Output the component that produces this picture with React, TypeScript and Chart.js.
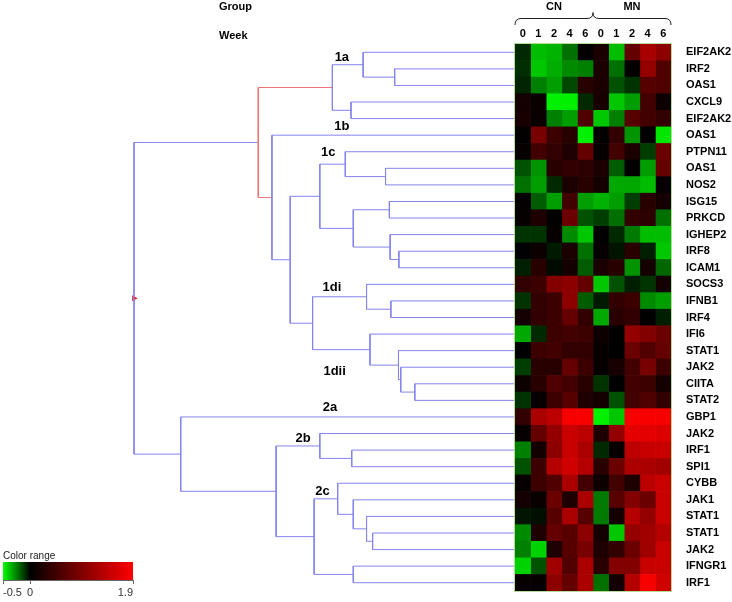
import React, { useEffect, useRef } from 'react';
import { Chart, registerables } from 'chart.js';
Chart.register(...registerables);

// ---------- data ----------
const genes = ['EIF2AK2','IRF2','OAS1','CXCL9','EIF2AK2','OAS1','PTPN11','OAS1','NOS2','ISG15','PRKCD','IGHEP2','IRF8','ICAM1','SOCS3','IFNB1','IRF4','IFI6','STAT1','JAK2','CIITA','STAT2','GBP1','JAK2','IRF1','SPI1','CYBB','JAK1','STAT1','STAT1','JAK2','IFNGR1','IRF1'];
const groups = ['CN', 'MN'];
const weekLabels = ['0','1','2','4','6','0','1','2','4','6'];

// columns: CN wk0,1,2,4,6 | MN wk0,1,2,4,6
const expression: number[][] = [
  [-0.08, -0.37, -0.35, -0.22, 0.03, 0.2, -0.37, 0.75, 1.25, 1.05],
  [-0.09, -0.39, -0.34, -0.27, -0.25, 0.2, -0.22, 0.02, 1.1, 0.6],
  [-0.07, -0.25, -0.31, -0.14, 0.3, 0.2, -0.16, -0.1, 0.65, 0.6],
  [0.15, 0.07, -0.47, -0.47, -0.08, 0.18, -0.39, -0.31, 0.5, 0.1],
  [0.18, 0.07, -0.25, -0.31, 0.6, -0.39, -0.25, 0.65, 0.5, 0.37],
  [0.02, 0.9, 0.45, 0.3, -0.47, 0.02, 0.37, -0.29, 0.02, -0.45],
  [0.05, 0.5, 0.37, 0.22, 0.75, 0.05, 0.5, 0.2, -0.12, 0.8],
  [-0.16, -0.29, 0.3, 0.37, 0.33, 0.2, -0.18, 0.02, -0.31, 0.75],
  [-0.22, -0.31, -0.08, 0.2, 0.3, 0.15, -0.33, -0.33, -0.37, 0.05],
  [0.03, -0.18, -0.31, 0.5, -0.31, -0.35, -0.31, -0.12, 0.3, 0.15],
  [0.05, 0.22, 0.02, 0.8, -0.16, -0.12, -0.22, 0.37, 0.33, -0.22],
  [-0.1, -0.1, 0.05, -0.27, -0.39, 0.02, -0.08, -0.24, -0.37, -0.37],
  [0.0, 0.1, -0.05, 0.2, -0.22, 0.05, -0.04, 0.3, -0.06, -0.39],
  [-0.06, 0.3, -0.02, 0.15, -0.18, 0.2, 0.3, -0.29, 0.15, -0.2],
  [0.37, 0.45, 0.97, 1.05, 0.75, -0.39, -0.16, -0.06, -0.1, 0.15],
  [-0.1, 0.37, 0.45, 1.05, -0.18, -0.05, 0.37, 0.45, -0.27, -0.31],
  [0.15, 0.37, 0.45, 0.75, 0.37, -0.33, 0.3, 0.37, 0.0, -0.06],
  [-0.33, -0.08, 0.45, 0.5, 0.45, 0.1, 0.0, 1.1, 0.97, 0.8],
  [0.0, 0.45, 0.5, 0.37, 0.37, 0.05, 0.0, 0.8, 0.6, 0.75],
  [-0.12, 0.3, 0.3, 0.75, 0.45, 0.05, 0.18, 0.5, 0.9, 0.45],
  [0.1, 0.3, 0.6, 0.5, 0.3, -0.1, 0.0, 0.5, 0.45, 0.15],
  [-0.1, 0.05, 0.45, 0.65, 0.22, 0.15, -0.16, 0.5, 0.6, 0.37],
  [0.37, 1.27, 1.4, 1.85, 1.85, -0.47, -0.39, 1.85, 1.85, 1.83],
  [0.05, 0.75, 1.1, 1.5, 1.4, 0.22, 1.1, 1.7, 1.7, 1.65],
  [-0.25, 0.15, 1.05, 1.5, 1.27, -0.08, 0.05, 1.4, 1.5, 1.5],
  [-0.16, 0.45, 1.35, 1.55, 1.35, 0.3, 0.8, 1.27, 1.27, 1.2],
  [0.05, 0.45, 0.6, 1.27, 0.5, 0.1, 0.5, 0.22, 1.4, 1.5],
  [0.15, 0.07, 0.8, 0.22, 1.27, -0.24, 0.65, 0.97, 0.8, 1.5],
  [-0.04, -0.03, 0.65, 1.27, 0.65, -0.24, 0.15, 1.35, 1.1, 1.5],
  [-0.27, 0.22, 0.75, 0.65, 1.05, 0.15, -0.39, 1.1, 1.2, 1.35],
  [-0.25, -0.41, 0.22, 0.65, 0.9, 0.22, 0.37, 0.8, 1.2, 1.5],
  [-0.41, -0.16, 1.2, 0.6, 1.27, 0.3, 0.97, 0.97, 1.5, 1.5],
  [0.05, 0.05, 1.05, 0.75, 1.27, -0.22, 0.15, 1.35, 1.85, 1.55],
];

// hierarchical clustering merges: [childA, childB, height]; leaves 0..32, new nodes 33+
const merges: [number, number, number][] = [
  [1, 2, 0.314],   // 33
  [0, 33, 0.397],  // 34
  [3, 4, 0.429],   // 35
  [34, 35, 0.478], // 36 (1a)
  [7, 8, 0.338],   // 37
  [6, 37, 0.444],  // 38
  [9, 10, 0.328],  // 39
  [12, 13, 0.303], // 40
  [11, 40, 0.326], // 41
  [39, 41, 0.423], // 42
  [38, 42, 0.511], // 43 (1c)
  [15, 16, 0.324], // 44
  [14, 44, 0.388], // 45 (1di)
  [20, 21, 0.261], // 46
  [19, 46, 0.298], // 47
  [18, 47, 0.304], // 48
  [17, 48, 0.379], // 49 (1dii)
  [45, 49, 0.530], // 50
  [43, 50, 0.589], // 51
  [5, 51, 0.637],  // 52 (1b)
  [36, 52, 0.673], // 53 (cluster 1)
  [24, 25, 0.427], // 54
  [23, 54, 0.511], // 55 (2b)
  [29, 30, 0.372], // 56
  [28, 56, 0.388], // 57
  [27, 57, 0.423], // 58
  [26, 58, 0.464], // 59
  [31, 32, 0.423], // 60
  [59, 60, 0.526], // 61 (2c)
  [55, 61, 0.626], // 62
  [22, 62, 0.877], // 63 (cluster 2)
  [53, 63, 1.0],   // 64 root
];
const highlightedMerge = 20;

const clusterNames = ['1a', '1b', '1c', '1di', '1dii', '2a', '2b', '2c'];
// anchors in (distance, row) units
const clusterAnchors: [number, number][] = [
  [0.453, 0.28], [0.453, 4.5], [0.489, 6.07], [0.479, 14.16],
  [0.472, 19.28], [0.484, 21.45], [0.555, 23.32], [0.504, 26.52],
];

const colorTicks = [-0.5, 0, 1.9];

// ---------- helpers ----------
const LINE_BLUE = '#8484ec';
const LINE_RED = '#ee7474';
const W = 732, H = 602;
const FONT = '"Liberation Sans", Arial, sans-serif';

function colorFor(v: number): string {
  if (v < 0) {
    const g = Math.round(Math.min(1, -v / 0.5) * 255);
    return `rgb(0,${g},0)`;
  }
  const r = Math.round(Math.min(1, v / 1.9) * 255);
  return `rgb(${r},0,0)`;
}

const noScalePadding = (s: any) => {
  s.paddingTop = 0; s.paddingBottom = 0; s.paddingLeft = 0; s.paddingRight = 0;
};

export default function App() {
  const dendroRef = useRef<HTMLCanvasElement>(null);
  const heatRef = useRef<HTMLCanvasElement>(null);
  const barRef = useRef<HTMLCanvasElement>(null);

  useEffect(() => {
    const charts: Chart[] = [];

    // ----- dendrogram -----
    const nodeY: number[] = genes.map((_, i) => i);
    const nodeH: number[] = genes.map(() => 0);
    merges.forEach(([a, b, h]) => {
      nodeY.push((nodeY[a] + nodeY[b]) / 2);
      nodeH.push(h);
    });
    const linkSets: any[] = merges.map(([a, b, h], k) => ({
      data: [
        { x: nodeH[a], y: nodeY[a] },
        { x: h, y: nodeY[a] },
        { x: h, y: nodeY[b] },
        { x: nodeH[b], y: nodeY[b] },
      ],
      showLine: true,
      borderColor: k === highlightedMerge ? LINE_RED : LINE_BLUE,
      borderWidth: 1,
      pointRadius: 0,
      tension: 0,
      clip: false,
    }));
    const rootIdx = nodeY.length - 1;
    linkSets.push({
      data: [{ x: nodeH[rootIdx], y: nodeY[rootIdx] }],
      showLine: false,
      pointStyle: 'triangle',
      rotation: 90,
      pointRadius: 3.5,
      backgroundColor: '#ff0000',
      borderColor: '#ff0000',
      borderWidth: 0,
      clip: false,
    });

    const labelPlugin = {
      id: 'clusterLabels',
      afterDatasetsDraw(chart: any) {
        const { ctx } = chart;
        const xs = chart.scales.x, ys = chart.scales.y;
        ctx.save();
        ctx.font = `bold 13px ${FONT}`;
        ctx.fillStyle = '#000';
        ctx.textAlign = 'center';
        ctx.textBaseline = 'middle';
        clusterNames.forEach((n, i) => {
          const [d, r] = clusterAnchors[i];
          ctx.fillText(n, xs.getPixelForValue(d), ys.getPixelForValue(r));
        });
        ctx.restore();
      },
    };

    charts.push(new Chart(dendroRef.current!, {
      type: 'scatter',
      data: { datasets: linkSets },
      options: {
        responsive: false,
        animation: false,
        events: [],
        layout: { padding: { left: 134, right: W - 514, top: 44, bottom: H - 591 } },
        scales: {
          x: { type: 'linear', min: 0, max: 1, reverse: true, display: false },
          y: { type: 'linear', min: -0.5, max: genes.length - 0.5, reverse: true, display: false },
        },
        plugins: { legend: { display: false }, tooltip: { enabled: false } },
      },
      plugins: [labelPlugin],
    } as any));

    // ----- heatmap -----
    const heatSets = weekLabels.map((_, c) => ({
      data: expression.map(() => [c, c + 1]),
      backgroundColor: expression.map((row) => colorFor(row[c])),
      borderWidth: 0,
      grouped: false,
      barPercentage: 1,
      categoryPercentage: 1,
    }));

    const decorPlugin = {
      id: 'decor',
      afterDraw(chart: any) {
        const { ctx, chartArea } = chart;
        const xs = chart.scales.x;
        ctx.save();
        // border
        ctx.strokeStyle = '#b4dc96';
        ctx.lineWidth = 1;
        ctx.strokeRect(chartArea.left - 0.5, chartArea.top - 0.5, chartArea.right - chartArea.left + 1, chartArea.bottom - chartArea.top + 1);
        // brace
        const L = chartArea.left, R = chartArea.right, M = xs.getPixelForValue(5);
        const yb = 25, ym = 18.5, yt = 12.5, r = 6;
        ctx.strokeStyle = '#222';
        ctx.beginPath();
        ctx.moveTo(L, yb);
        ctx.quadraticCurveTo(L, ym, L + r, ym);
        ctx.lineTo(M - r, ym);
        ctx.quadraticCurveTo(M, ym, M, yt);
        ctx.quadraticCurveTo(M, ym, M + r, ym);
        ctx.lineTo(R - r, ym);
        ctx.quadraticCurveTo(R, ym, R, yb);
        ctx.stroke();
        // group labels
        ctx.font = `bold 11px ${FONT}`;
        ctx.fillStyle = '#000';
        ctx.textAlign = 'center';
        ctx.textBaseline = 'middle';
        groups.forEach((g, i) => ctx.fillText(g, xs.getPixelForValue(2.5 + i * 5), 6.5));
        ctx.restore();
      },
    };

    charts.push(new Chart(heatRef.current!, {
      type: 'bar',
      data: { labels: genes, datasets: heatSets },
      options: {
        indexAxis: 'y',
        responsive: false,
        animation: false,
        events: [],
        layout: { padding: { left: 515, right: 0, top: 0, bottom: H - 591 } },
        scales: {
          x: { type: 'linear', min: 0, max: weekLabels.length, display: false },
          xTop: {
            type: 'category',
            axis: 'x',
            labels: weekLabels,
            position: 'top',
            offset: true,
            grid: { display: false, drawTicks: false },
            border: { display: false },
            ticks: { font: { family: FONT, size: 11, weight: 'bold' }, color: '#000', padding: 3, maxRotation: 0, autoSkip: false },
            afterFit: (s: any) => { s.height = 44; noScalePadding(s); },
          },
          y: {
            type: 'category',
            position: 'right',
            grid: { display: false, drawTicks: false },
            border: { display: false },
            ticks: { font: { family: FONT, size: 11, weight: 'bold' }, color: '#000', padding: 15, autoSkip: false },
            afterFit: (s: any) => { s.width = W - 671; noScalePadding(s); },
          },
        },
        plugins: { legend: { display: false }, tooltip: { enabled: false } },
      },
      plugins: [decorPlugin],
    } as any));

    // ----- color bar -----
    charts.push(new Chart(barRef.current!, {
      type: 'bar',
      data: {
        labels: [''],
        datasets: [{
          data: [[colorTicks[0], colorTicks[colorTicks.length - 1]]],
          backgroundColor: (ctx: any) => {
            const chart = ctx.chart;
            if (!chart.chartArea) return '#000';
            const xs = chart.scales.x;
            const lo = colorTicks[0], hi = colorTicks[colorTicks.length - 1];
            const g = chart.ctx.createLinearGradient(xs.getPixelForValue(lo), 0, xs.getPixelForValue(hi), 0);
            g.addColorStop(0, colorFor(lo));
            g.addColorStop((0 - lo) / (hi - lo), colorFor(0));
            g.addColorStop(1, colorFor(hi));
            return g;
          },
          borderWidth: 0,
          barPercentage: 1,
          categoryPercentage: 1,
        }],
      },
      options: {
        indexAxis: 'y',
        responsive: false,
        animation: false,
        events: [],
        layout: { padding: { left: 3, right: W - 133, top: 562, bottom: 0 } },
        scales: {
          x: {
            type: 'linear',
            min: colorTicks[0],
            max: colorTicks[colorTicks.length - 1],
            afterBuildTicks: (s: any) => { s.ticks = colorTicks.map((v) => ({ value: v })); },
            ticks: {
              align: 'inner',
              autoSkip: false,
              maxRotation: 0,
              padding: 2,
              font: { family: FONT, size: 11 },
              color: '#333',
              callback: (v: any) => String(v),
            },
            grid: { display: true, drawOnChartArea: false, drawTicks: true, tickLength: 4, color: '#666' },
            border: { display: true, color: '#666' },
            afterFit: (s: any) => { s.height = 22; noScalePadding(s); },
          },
          y: { display: false },
        },
        plugins: { legend: { display: false }, tooltip: { enabled: false } },
      },
    } as any));

    return () => charts.forEach((c) => c.destroy());
  }, []);

  const canvasStyle: React.CSSProperties = { position: 'absolute', left: 0, top: 0, width: W, height: H, display: 'block' };
  const text = (s: string, left: number, cy: number, size: number, bold: boolean, color = '#000') => (
    <div style={{ position: 'absolute', left, top: cy - size * 0.6, fontFamily: FONT, fontSize: size, lineHeight: `${size * 1.2}px`, fontWeight: bold ? 'bold' : 'normal', color, whiteSpace: 'nowrap' }}>{s}</div>
  );

  return (
    <div style={{ position: 'absolute', left: 0, top: 0, width: W, height: H, background: '#fff', overflow: 'hidden' }}>
      <canvas ref={dendroRef} width={W} height={H} style={canvasStyle} />
      <canvas ref={heatRef} width={W} height={H} style={canvasStyle} />
      <canvas ref={barRef} width={W} height={H} style={canvasStyle} />
      {text('Group', 219, 6.5, 11, true)}
      {text('Week', 219, 36, 11, true)}
      {text('Color range', 3, 555.5, 10, false, '#222')}
    </div>
  );
}
